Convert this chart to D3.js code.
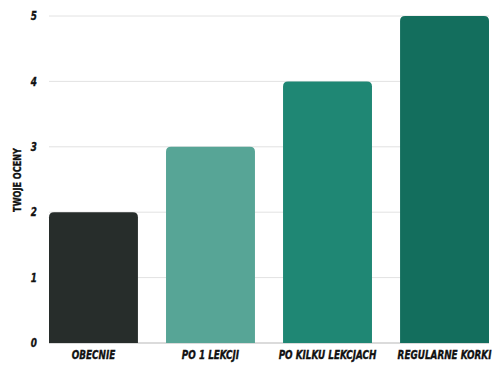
<!DOCTYPE html>
<html>
<head>
<meta charset="utf-8">
<script src="https://cdn.jsdelivr.net/npm/d3@7"></script>
<style>
  body { margin: 0; background: #fff; }
  text { font-family: "DejaVu Sans Condensed", sans-serif; font-weight: bold; fill: #111; stroke: #111; stroke-width: 0.35px; }
</style>
</head>
<body>
<div id="chart"></div>
<script>
const categories = ["OBECNIE", "PO 1 LEKCJI", "PO KILKU LEKCJACH", "REGULARNE KORKI"];
const values = [2, 3, 4, 5];
const colors = ["#272d2b", "#57a596", "#1f8774", "#136e5d"];
const yTicks = [0, 1, 2, 3, 4, 5];

const width = 496, height = 372;
const margin = { top: 16, right: 7, bottom: 29, left: 49 };
const graphWidth = width - margin.left - margin.right;
const graphHeight = height - margin.top - margin.bottom;
const squeeze = 0.82; // narrow the condensed font a bit more

const svg = d3.select("#chart").append("svg")
    .attr("width", width)
    .attr("height", height);

const graph = svg.append("g")
    .attr("transform", `translate(${margin.left},${margin.top})`);

const x = d3.scaleBand()
    .domain(categories)
    .range([0, graphWidth])
    .paddingInner(0.24)
    .paddingOuter(0);

const y = d3.scaleLinear()
    .domain([0, 5])
    .range([graphHeight, 0]);

// gridlines
graph.selectAll("line.grid")
    .data(yTicks)
    .enter()
    .append("line")
    .attr("class", "grid")
    .attr("x1", 0)
    .attr("x2", graphWidth)
    .attr("y1", d => y(d))
    .attr("y2", d => y(d))
    .attr("stroke", d => d === 0 ? "#cfcfcf" : "#e2e2e2")
    .attr("stroke-width", d => d === 0 ? 1.5 : 1);

// bars with rounded top corners
const r = 5;
graph.selectAll("path.bar")
    .data(categories)
    .enter()
    .append("path")
    .attr("class", "bar")
    .attr("fill", (d, i) => colors[i])
    .attr("d", (d, i) => {
        const x0 = x(d), w = x.bandwidth();
        const y0 = y(values[i]), y1 = y(0);
        return `M${x0},${y1}V${y0 + r}Q${x0},${y0} ${x0 + r},${y0}` +
               `H${x0 + w - r}Q${x0 + w},${y0} ${x0 + w},${y0 + r}V${y1}Z`;
    });

// y tick labels
graph.selectAll("text.ytick")
    .data(yTicks)
    .enter()
    .append("text")
    .attr("class", "ytick")
    .attr("transform", d => `translate(-12,${y(d)}) scale(${squeeze},1)`)
    .attr("dy", "0.35em")
    .attr("text-anchor", "end")
    .style("font-size", "12px")
    .style("font-style", "italic")
    .text(d => d);

// x category labels
graph.selectAll("text.xtick")
    .data(categories)
    .enter()
    .append("text")
    .attr("class", "xtick")
    .attr("transform", d => `translate(${x(d) + x.bandwidth() / 2},${graphHeight + 12}) scale(${squeeze},1)`)
    .attr("dy", "0.35em")
    .attr("text-anchor", "middle")
    .style("font-size", "12px")
    .style("font-style", "italic")
    .text(d => d);

// y axis label
svg.append("text")
    .attr("transform", `translate(17,180) rotate(-90) scale(${squeeze},1)`)
    .attr("dy", "0.35em")
    .attr("text-anchor", "middle")
    .style("font-size", "11px")
    .text("TWOJE OCENY");
</script>
</body>
</html>
